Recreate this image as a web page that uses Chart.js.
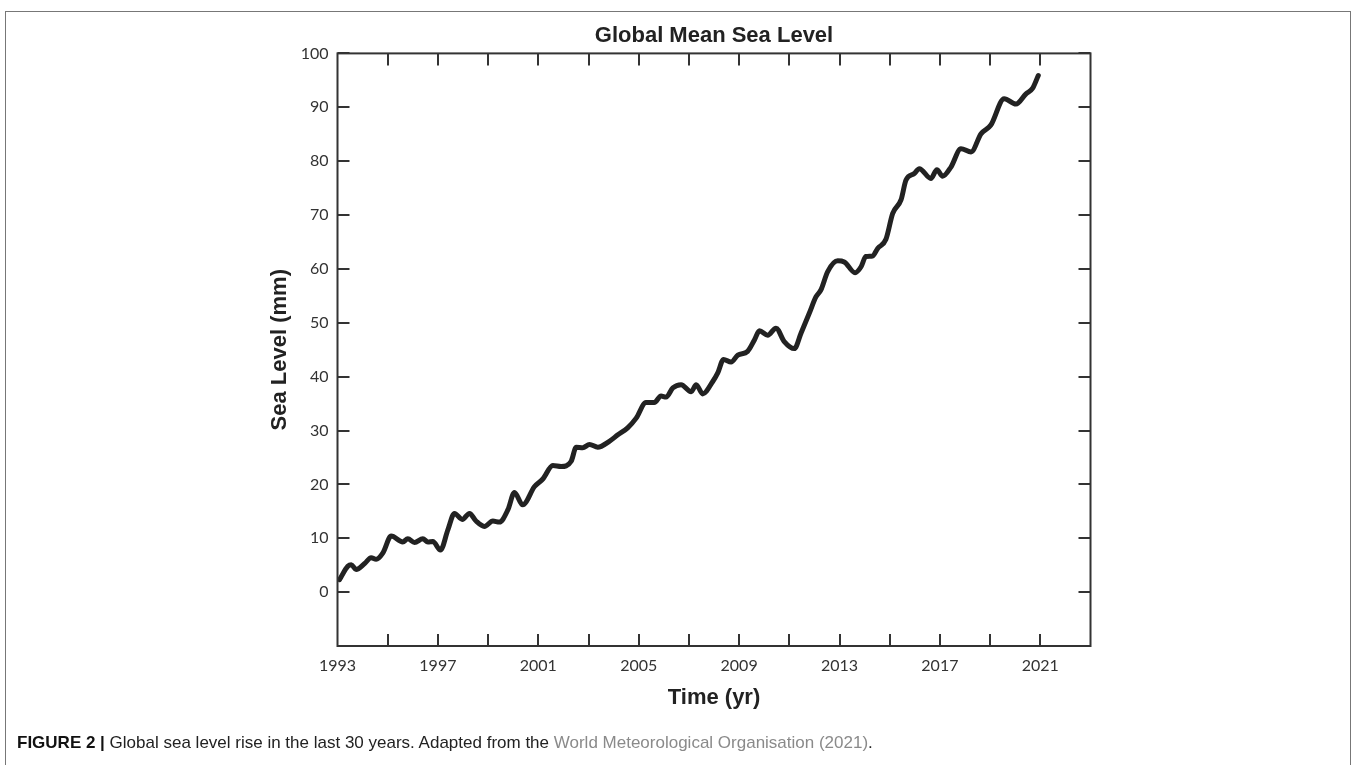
<!DOCTYPE html>
<html>
<head>
<meta charset="utf-8">
<title>Global Mean Sea Level</title>
<script src="https://cdn.jsdelivr.net/npm/chart.js@4.4.1/dist/chart.umd.min.js"></script>
<style>
  html, body { margin: 0; padding: 0; background: #fff; }
  body { width: 1356px; height: 765px; position: relative; overflow: hidden; }
  #wrap { position: absolute; left: 0; top: 0; width: 1356px; height: 765px; }
  .frame { position: absolute; left: 5px; top: 11px; width: 1344px; height: 800px; border: 1px solid #777; }
  .caption { position: absolute; left: 17px; top: 733px; font: 17px "Liberation Sans", Arial, sans-serif; color: #222; white-space: nowrap; line-height: 20px; }
  .caption b { color: #111; }
  .caption .src { color: #8a8a8a; }
</style>
</head>
<body>
<div class="frame"></div>
<div id="wrap"><canvas id="slChart" width="1356" height="765"></canvas></div>
<div class="caption"><b>FIGURE 2 |</b> Global sea level rise in the last 30 years. Adapted from the <span class="src">World Meteorological Organisation (2021)</span>.</div>
<script>
"use strict";

// ---- data ----
const years = [
  1993.08, 1993.41, 1993.55, 1993.74, 1994.08, 1994.34, 1994.54, 1994.81, 1995.14, 1995.6,
  1995.8, 1996.07, 1996.4, 1996.6, 1996.8, 1997.1, 1997.4, 1997.66, 1997.97, 1998.26,
  1998.52, 1998.85, 1999.19, 1999.45, 1999.79, 2000.05, 2000.38, 2000.85, 2001.18, 2001.58,
  2001.91, 2002.31, 2002.51, 2002.77, 2003.04, 2003.37, 2003.83, 2004.17, 2004.56, 2004.9,
  2005.29, 2005.62, 2005.89, 2006.09, 2006.36, 2006.69, 2007.09, 2007.29, 2007.55, 2007.95,
  2008.15, 2008.38, 2008.68, 2008.95, 2009.34, 2009.61, 2009.81, 2010.14, 2010.47, 2010.8,
  2011.2, 2011.47, 2011.8, 2012.06, 2012.26, 2012.53, 2012.93, 2013.19, 2013.62, 2013.86,
  2014.05, 2014.32, 2014.52, 2014.85, 2015.12, 2015.45, 2015.65, 2015.98, 2016.18, 2016.64,
  2016.88, 2017.11, 2017.44, 2017.84, 2018.24, 2018.64, 2019.03, 2019.56, 2020.03, 2020.43,
  2020.69, 2020.92
];
const seaLevel = [
  2.3, 4.8, 5.1, 4.2, 5.3, 6.4, 6.1, 7.3, 10.4, 9.3,
  9.9, 9.2, 9.9, 9.3, 9.4, 7.8, 11.6, 14.6, 13.5, 14.6,
  13.2, 12.2, 13.2, 13.0, 15.3, 18.5, 16.2, 19.6, 21.0, 23.5,
  23.3, 24.3, 26.9, 26.8, 27.4, 26.9, 28.0, 29.2, 30.5, 32.3,
  35.2, 35.2, 36.4, 36.2, 37.9, 38.5, 37.2, 38.5, 36.8, 39.1,
  40.7, 43.2, 42.7, 44.0, 44.7, 46.8, 48.5, 47.7, 49.0, 46.5,
  45.2, 48.1, 51.8, 54.8, 56.1, 59.5, 61.5, 61.3, 59.3, 60.4,
  62.3, 62.4, 63.8, 65.5, 70.3, 72.8, 76.5, 77.7, 78.6, 76.8,
  78.4, 77.2, 78.9, 82.3, 81.7, 85.1, 86.7, 91.6, 90.6, 92.5,
  93.5, 95.9
];
const xLabelYears = [1993, 1997, 2001, 2005, 2009, 2013, 2017, 2021];
const xMarkYears = [1995, 1997, 1999, 2001, 2003, 2005, 2007, 2009, 2011, 2013, 2015, 2017, 2019, 2021];
const yTickValues = [0, 10, 20, 30, 40, 50, 60, 70, 80, 90, 100];

const INK = "#333";
const TICK_LEN = 12;

// inward tick marks on all four sides plus the closed frame
const frameTicks = {
  id: "frameTicks",
  afterDatasetsDraw(chart) {
    const { ctx, chartArea: a, scales: { x, y } } = chart;
    ctx.save();
    ctx.strokeStyle = INK;
    ctx.lineWidth = 2;
    ctx.beginPath();
    xMarkYears.forEach(v => {
      const px = Math.round(x.getPixelForValue(v));
      ctx.moveTo(px, a.bottom); ctx.lineTo(px, a.bottom - TICK_LEN);
      ctx.moveTo(px, a.top); ctx.lineTo(px, a.top + TICK_LEN);
    });
    yTickValues.forEach(v => {
      const py = Math.round(y.getPixelForValue(v));
      ctx.moveTo(a.left, py); ctx.lineTo(a.left + TICK_LEN, py);
      ctx.moveTo(a.right, py); ctx.lineTo(a.right - TICK_LEN, py);
    });
    ctx.stroke();
    ctx.strokeRect(a.left, a.top, a.right - a.left, a.bottom - a.top);
    ctx.restore();
  }
};

const boldFont = (size) => ({ family: '"Liberation Sans", Arial, sans-serif', size, weight: "bold", lineHeight: 1.2 });

new Chart(document.getElementById("slChart"), {
  type: "line",
  data: {
    datasets: [{
      label: "Global Mean Sea Level",
      data: years.map((yr, i) => ({ x: yr, y: seaLevel[i] })),
      borderColor: "#222",
      borderWidth: 5,
      pointRadius: 0,
      fill: false,
      cubicInterpolationMode: "monotone",
      borderCapStyle: "round",
      borderJoinStyle: "round"
    }]
  },
  options: {
    responsive: false,
    animation: false,
    devicePixelRatio: 1,
    layout: { padding: { left: 0, top: 0, right: 265.5, bottom: 0 } },
    plugins: {
      legend: { display: false },
      tooltip: { enabled: false },
      title: {
        display: true,
        text: "Global Mean Sea Level",
        fullSize: false,
        color: "#222",
        font: boldFont(22),
        padding: { top: 23, bottom: 4 }
      }
    },
    scales: {
      x: {
        type: "linear",
        min: 1993,
        max: 2023,
        grid: { display: false, drawTicks: false },
        border: { display: false },
        afterBuildTicks: (scale) => { scale.ticks = xLabelYears.map(v => ({ value: v })); },
        afterFit: (scale) => { scale.height = 119; },
        ticks: {
          color: INK,
          padding: 10,
          maxRotation: 0,
          autoSkip: false,
          font: { family: "Lato, sans-serif", size: 16 },
          callback: (v) => String(v)
        },
        title: {
          display: true,
          text: "Time (yr)",
          color: "#222",
          font: boldFont(22),
          padding: { top: 0, bottom: 54 }
        }
      },
      y: {
        min: -10,
        max: 100,
        grid: { display: false, drawTicks: false },
        border: { display: false },
        afterBuildTicks: (scale) => { scale.ticks = yTickValues.map(v => ({ value: v })); },
        afterFit: (scale) => { scale.width = 337.5; },
        ticks: {
          color: INK,
          padding: 9,
          font: { family: "Lato, sans-serif", size: 16 },
          callback: (v) => String(v)
        },
        title: {
          display: true,
          text: "Sea Level (mm)",
          color: "#222",
          font: boldFont(22),
          padding: { top: 267, bottom: 0 }
        }
      }
    }
  },
  plugins: [frameTicks]
});
</script>
</body>
</html>
